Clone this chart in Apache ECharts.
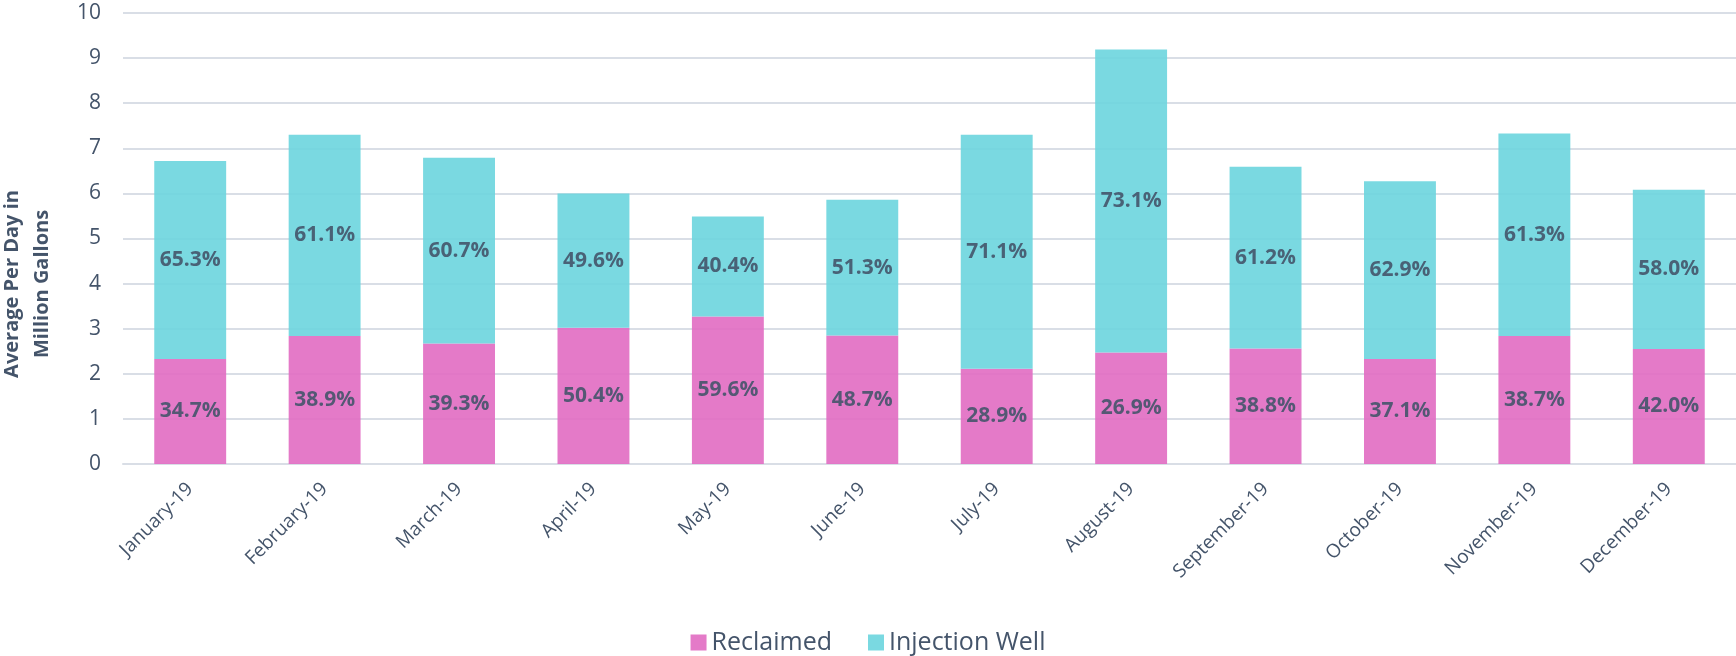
<!DOCTYPE html>
<html lang="en">
<head>
    <meta charset="utf-8"/>
    <title>Reclaimed vs Injection Well</title>
    <script src="https://cdn.jsdelivr.net/npm/echarts@6/dist/echarts.min.js"></script>
</head>
<style>
    * { margin: 0; padding: 0; }
    html, body { width: 100%; height: 100%; background: #fff; }
    #main { width: 1736px; height: 656px; }
</style>
<body>
<div id="main"></div>
<script type="text/javascript">
    // months on the x axis
    var months = ['January-19', 'February-19', 'March-19', 'April-19', 'May-19', 'June-19',
        'July-19', 'August-19', 'September-19', 'October-19', 'November-19', 'December-19'];
    // million gallons per day
    var reclaimed = [2.33, 2.84, 2.67, 3.02, 3.27, 2.85, 2.11, 2.47, 2.56, 2.33, 2.84, 2.55];
    var injection = [4.39, 4.46, 4.12, 2.98, 2.22, 3.01, 5.19, 6.72, 4.03, 3.94, 4.49, 3.53];
    // share labels printed in the bars
    var reclaimedPct = ['34.7%', '38.9%', '39.3%', '50.4%', '59.6%', '48.7%', '28.9%', '26.9%', '38.8%', '37.1%', '38.7%', '42.0%'];
    var injectionPct = ['65.3%', '61.1%', '60.7%', '49.6%', '40.4%', '51.3%', '71.1%', '73.1%', '61.2%', '62.9%', '61.3%', '58.0%'];
    var yTicks = [0, 1, 2, 3, 4, 5, 6, 7, 8, 9, 10];

    var textColor = '#44546A';
    var font = 'Open Sans';

    var label = function (texts) {
        return {
            show: true,
            position: 'inside',
            color: textColor,
            fontFamily: font,
            fontWeight: 'bold',
            fontSize: 21,
            formatter: function (p) { return texts[p.dataIndex]; }
        };
    };

    var chart = echarts.init(document.getElementById('main'));
    chart.setOption({
        backgroundColor: '#fff',
        animation: false,
        textStyle: { fontFamily: font },
        grid: { left: 123, right: 0, top: 13, bottom: 192, containLabel: false },
        legend: {
            top: 625,
            left: 'center',
            icon: 'rect',
            itemWidth: 16,
            itemHeight: 16,
            itemGap: 36,
            textStyle: { color: textColor, fontSize: 25, fontFamily: font },
            data: ['Reclaimed', 'Injection Well']
        },
        xAxis: {
            type: 'category',
            data: months,
            axisLine: { lineStyle: { color: '#D9DEE6', width: 2 } },
            axisTick: { show: false },
            axisLabel: { rotate: 45, color: textColor, fontSize: 19, margin: 22 }
        },
        yAxis: {
            type: 'value',
            min: yTicks[0],
            max: yTicks[yTicks.length - 1],
            interval: 1,
            axisLine: { show: false },
            axisTick: { show: false },
            axisLabel: { color: textColor, fontSize: 21, margin: 22 },
            splitLine: { lineStyle: { color: '#D9DEE6', width: 2 } }
        },
        graphic: [{
            type: 'text',
            x: 27,
            y: 284,
            rotation: Math.PI / 2,
            style: {
                text: 'Average Per Day in\nMillion Gallons',
                fill: textColor,
                font: 'bold 20px "Open Sans"',
                align: 'center',
                verticalAlign: 'middle',
                lineHeight: 30
            }
        }],
        series: [
            {
                name: 'Reclaimed',
                type: 'bar',
                stack: 'total',
                barWidth: '53.5%',
                data: reclaimed,
                itemStyle: { color: '#E16BC2', opacity: 0.9 },
                label: label(reclaimedPct)
            },
            {
                name: 'Injection Well',
                type: 'bar',
                stack: 'total',
                barWidth: '53.5%',
                data: injection,
                itemStyle: { color: '#6CD5DE', opacity: 0.9 },
                label: label(injectionPct)
            }
        ]
    });
</script>
</body>
</html>
